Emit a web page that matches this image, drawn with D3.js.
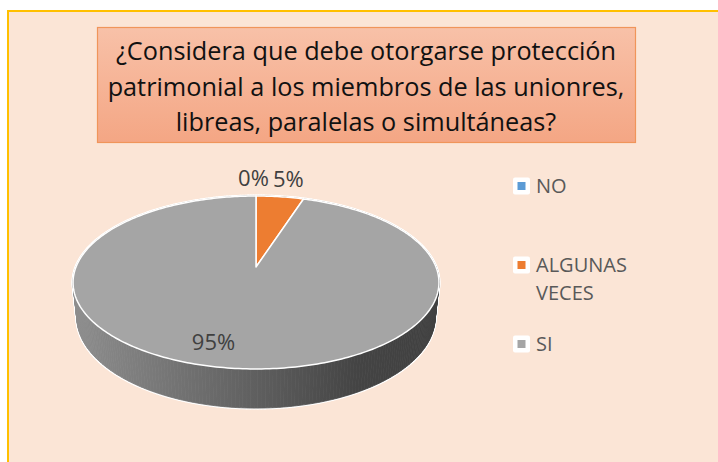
<!DOCTYPE html>
<html lang="es">
<head>
    <meta charset="UTF-8">
    <title>Protección patrimonial</title>
    <script src="https://cdnjs.cloudflare.com/ajax/libs/d3/7.8.5/d3.min.js"></script>
    <style>
        body { margin: 0; background: #fff; }
        svg { display: block; }
    </style>
</head>
<body>
    <div id="chart"></div>

    <script>
        // datos
        const tituloLineas = [
            "¿Considera que debe otorgarse protección",
            "patrimonial a los miembros de las unionres,",
            "libreas, paralelas o simultáneas?"
        ];
        const categorias = ["NO", "ALGUNAS VECES", "SI"];
        const valores = [0, 5, 95];
        const etiquetas = ["0%", "5%", "95%"];
        const colores = ["#5B9BD5", "#ED7D31", "#A5A5A5"];

        const width = 718;
        const height = 462;
        const fuente = "'Open Sans', 'Noto Sans', sans-serif";

        const svg = d3.select("#chart")
            .append("svg")
            .attr("width", width)
            .attr("height", height);

        const defs = svg.append("defs");

        // fondo del area del grafico
        svg.append("rect")
            .attr("x", 8).attr("y", 11)
            .attr("width", 730).attr("height", 470)
            .attr("fill", "#FBE5D6")
            .attr("stroke", "#FFC000")
            .attr("stroke-width", 2);

        // caja del titulo
        const gradTitulo = defs.append("linearGradient")
            .attr("id", "gradTitulo")
            .attr("x1", 0).attr("y1", 0).attr("x2", 0).attr("y2", 1);
        gradTitulo.append("stop").attr("offset", 0).attr("stop-color", "#F8C1A8");
        gradTitulo.append("stop").attr("offset", 1).attr("stop-color", "#F4A684");

        svg.append("rect")
            .attr("x", 97.5).attr("y", 27.5)
            .attr("width", 538).attr("height", 115)
            .attr("fill", "url(#gradTitulo)")
            .attr("stroke", "#F0955A")
            .attr("stroke-width", 1.2);

        const titulo = svg.append("g")
            .attr("font-family", fuente)
            .attr("fill", "#111")
            .attr("text-anchor", "middle");

        const lineas = titulo.selectAll("text")
            .data(tituloLineas)
            .join("text")
            .attr("x", 366)
            .attr("y", (d, i) => 60 + i * 35.5)
            .attr("font-size", 100)
            .text(d => d);

        // ajustar el tamaño para que la segunda linea mida ~517px
        const largo = lineas.nodes()[1].getComputedTextLength();
        lineas.attr("font-size", 100 * 517 / largo);

        // pastel 3D con perspectiva
        const cx = 256, cy = 267, k = 180;
        const D = 4.94, sE = 0.465, cE = 0.885, grosor = 0.22;

        function proyectar(ang, r, h) {
            const u = r * Math.sin(ang);
            const w = r * Math.cos(ang);
            const yc = w * sE + h * cE;
            const zc = D + w * cE - h * sE;
            return [cx + k * u * D / zc, cy - k * yc * D / zc];
        }

        const pie = d3.pie().sort(null).value(d => d);
        const arcos = pie(valores);

        const paso = Math.PI / 180;

        function bordeSuperior(a0, a1) {
            const pts = [];
            const n = Math.max(1, Math.ceil((a1 - a0) / paso));
            for (let i = 0; i <= n; i++) {
                pts.push(proyectar(a0 + (a1 - a0) * i / n, 1, 0));
            }
            return pts;
        }

        // quads de la pared, ordenados de atras hacia adelante
        const quads = [];
        arcos.forEach((a, idx) => {
            if (a.endAngle - a.startAngle <= 0) return;
            const n = Math.max(1, Math.ceil((a.endAngle - a.startAngle) / paso));
            for (let i = 0; i < n; i++) {
                const t0 = a.startAngle + (a.endAngle - a.startAngle) * i / n;
                const t1 = a.startAngle + (a.endAngle - a.startAngle) * (i + 1) / n;
                const pts = [
                    proyectar(t0, 1, 0), proyectar(t1, 1, 0),
                    proyectar(t1, 1, -grosor), proyectar(t0, 1, -grosor)
                ];
                quads.push({ idx, pts, prof: -Math.cos((t0 + t1) / 2) });
            }
        });
        quads.sort((a, b) => a.prof - b.prof);

        // degradados de la pared
        const xIzq = proyectar(-Math.PI / 2, 1, 0)[0];
        const xDer = proyectar(Math.PI / 2, 1, 0)[0];
        colores.forEach((c, i) => {
            const base = d3.color(c);
            const g = defs.append("linearGradient")
                .attr("id", "pared" + i)
                .attr("gradientUnits", "userSpaceOnUse")
                .attr("x1", xIzq).attr("y1", 0).attr("x2", xDer).attr("y2", 0);
            g.append("stop").attr("offset", 0).attr("stop-color", base.darker(0.45));
            g.append("stop").attr("offset", 0.5).attr("stop-color", base.darker(1.55));
            g.append("stop").attr("offset", 0.78).attr("stop-color", base.darker(2.5));
            g.append("stop").attr("offset", 1).attr("stop-color", base.darker(2.65));
        });

        const linea = d3.line();

        // halo blanco
        svg.append("g")
            .selectAll("path")
            .data(quads)
            .join("path")
            .attr("d", d => linea(d.pts) + "Z")
            .attr("fill", "#fff")
            .attr("stroke", "#fff")
            .attr("stroke-width", 3)
            .attr("stroke-linejoin", "round");

        svg.append("g")
            .selectAll("path")
            .data(quads)
            .join("path")
            .attr("d", d => linea(d.pts) + "Z")
            .attr("fill", d => `url(#pared${d.idx})`)
            .attr("stroke", d => `url(#pared${d.idx})`)
            .attr("stroke-width", 0.8);

        // cara superior
        svg.append("g")
            .selectAll("path")
            .data(arcos.filter(a => a.endAngle > a.startAngle))
            .join("path")
            .attr("d", a => {
                const pts = [proyectar(0, 0, 0)].concat(bordeSuperior(a.startAngle, a.endAngle));
                return linea(pts) + "Z";
            })
            .attr("fill", a => colores[a.index])
            .attr("stroke", "#fff")
            .attr("stroke-width", 1.5)
            .attr("stroke-linejoin", "round");

        // etiquetas de datos
        const etiq = arcos.map((a, i) => {
            const medio = (a.startAngle + a.endAngle) / 2;
            const fuera = (a.endAngle - a.startAngle) < Math.PI / 4;
            const p = fuera ? proyectar(medio, 1.3, 0) : proyectar(medio + 0.1, 0.8, 0);
            return { texto: etiquetas[i], x: p[0], y: p[1] };
        });

        const gEtiq = svg.append("g")
            .attr("font-family", fuente)
            .attr("font-size", 22)
            .attr("fill", "#404040")
            .attr("text-anchor", "middle");

        const textos = gEtiq.selectAll("text")
            .data(etiq)
            .join("text")
            .attr("dy", "0.35em")
            .text(d => d.texto);

        // separar etiquetas que se encimen
        const anchos = textos.nodes().map(n => n.getComputedTextLength());
        for (let i = 0; i < etiq.length - 1; i++) {
            const a = etiq[i], b = etiq[i + 1];
            if (Math.abs(a.y - b.y) < 20) {
                const minimo = (anchos[i] + anchos[i + 1]) / 2 + 4;
                const dist = b.x - a.x;
                if (dist < minimo) {
                    const extra = (minimo - dist) / 2;
                    a.x -= extra;
                    b.x += extra;
                }
            }
        }
        textos.attr("x", d => d.x).attr("y", d => d.y);

        // leyenda
        const yLeyenda = d3.scalePoint()
            .domain(categorias)
            .range([186, 344]);

        const leyenda = svg.append("g")
            .attr("font-family", fuente)
            .attr("font-size", 20)
            .attr("fill", "#595959");

        const items = leyenda.selectAll("g")
            .data(categorias)
            .join("g")
            .attr("transform", d => `translate(513,${yLeyenda(d)})`);

        items.append("rect")
            .attr("x", 0).attr("y", -8.5)
            .attr("width", 17).attr("height", 17)
            .attr("rx", 2)
            .attr("fill", "#fff");

        items.append("rect")
            .attr("x", 4.5).attr("y", -4)
            .attr("width", 8).attr("height", 8)
            .attr("fill", (d, i) => colores[i]);

        items.append("text")
            .attr("x", 23)
            .attr("y", 7)
            .each(function (d) {
                const palabras = d.split(" ");
                const t = d3.select(this);
                palabras.forEach((p, j) => {
                    t.append("tspan")
                        .attr("x", 23)
                        .attr("dy", j === 0 ? 0 : 28)
                        .text(p);
                });
            });
    </script>
</body>
</html>
